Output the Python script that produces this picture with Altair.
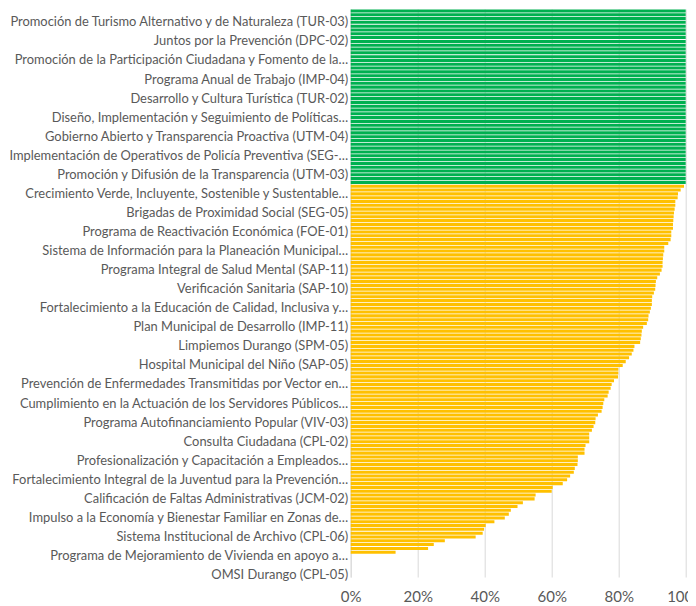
import json
import altair as alt
import pandas as pd

# Category labels shown on the axis (every 5th category, bottom to top)
tick_labels = [
    "OMSI Durango (CPL-05)",
    "Programa de Mejoramiento de Vivienda en apoyo a…",
    "Sistema Institucional de Archivo (CPL-06)",
    "Impulso a la Economía y Bienestar Familiar en Zonas de…",
    "Calificación de Faltas Administrativas (JCM-02)",
    "Fortalecimiento Integral de la Juventud para la Prevención…",
    "Profesionalización y Capacitación a Empleados…",
    "Consulta Ciudadana (CPL-02)",
    "Programa Autofinanciamiento Popular (VIV-03)",
    "Cumplimiento en la Actuación de los Servidores Públicos…",
    "Prevención de Enfermedades Transmitidas por Vector en…",
    "Hospital Municipal del Niño (SAP-05)",
    "Limpiemos Durango (SPM-05)",
    "Plan Municipal de Desarrollo (IMP-11)",
    "Fortalecimiento a la Educación de Calidad, Inclusiva y…",
    "Verificación Sanitaria (SAP-10)",
    "Programa Integral de Salud Mental (SAP-11)",
    "Sistema de Información para la Planeación Municipal…",
    "Programa de Reactivación Económica (FOE-01)",
    "Brigadas de Proximidad Social (SEG-05)",
    "Crecimiento Verde, Incluyente, Sostenible y Sustentable…",
    "Promoción y Difusión de la Transparencia (UTM-03)",
    "Implementación de Operativos de Policía Preventiva (SEG-…",
    "Gobierno Abierto y Transparencia Proactiva (UTM-04)",
    "Diseño, Implementación y Seguimiento de Políticas…",
    "Desarrollo y Cultura Turística (TUR-02)",
    "Programa Anual de Trabajo (IMP-04)",
    "Promoción de la Participación Ciudadana y Fomento de la…",
    "Juntos por la Prevención (DPC-02)",
    "Promoción de Turismo Alternativo y de Naturaleza (TUR-03)",
]
label_step = 5

# Completion (%) of programs, bottom to top
zero_programs = [0, 0, 0, 0, 0, 0]
partial_programs = [
    13.4, 23.1, 24.8, 28.1, 37.3, 39.4, 39.8, 40.3, 42.9, 46.0,
    47.2, 47.8, 49.8, 51.4, 54.9, 55.2, 60.0, 60.3, 63.3, 64.6,
    65.5, 66.6, 66.9, 67.7, 67.8, 67.8, 69.8, 69.8, 70.1, 71.2,
    71.2, 71.2, 72.0, 72.5, 73.0, 73.1, 73.8, 74.9, 75.2, 75.4,
    75.7, 76.7, 77.0, 77.6, 77.9, 78.6, 79.8, 79.9, 79.9, 81.2,
    82.1, 83.1, 83.9, 84.4, 84.7, 86.4, 86.6, 86.8, 86.9, 87.3,
    88.4, 88.8, 88.9, 89.3, 89.6, 89.9, 89.9, 90.0, 90.5, 90.9,
    91.0, 91.1, 91.5, 92.3, 92.8, 93.1, 93.1, 93.2, 93.3, 93.6,
    93.6, 94.8, 95.5, 95.7, 95.7, 96.2, 96.2, 96.3, 96.4, 96.5,
    96.7, 96.9, 96.9, 97.6, 97.7, 98.5, 99.5,
]
complete_programs = [100.0] * 46

completion = zero_programs + partial_programs + complete_programs

df = pd.DataFrame({
    "idx": list(range(len(completion))),
    "pct": [v / 100 for v in completion],
    "status": ["Cumplido" if v >= 100 else "Parcial" for v in completion],
})

# Untruncated labels sit a little further from the axis (as in the original)
shown_labels = [t if t.endswith("…") else t + "\u00a0\u00a0\u00a0" for t in tick_labels]
label_expr = (
    json.dumps(shown_labels, ensure_ascii=False)
    + "[floor(datum.value / %d)]" % label_step
)

chart = (
    alt.Chart(df)
    .mark_bar()
    .encode(
        x=alt.X(
            "pct:Q",
            scale=alt.Scale(domain=[0, 1], nice=False),
            axis=alt.Axis(
                format="%",
                values=[0, 0.2, 0.4, 0.6, 0.8, 1.0],
                title=None,
                grid=True,
                gridColor="#D9D9D9",
                gridWidth=1,
                domain=False,
                ticks=False,
                labelColor="#595959",
                labelFontSize=15,
                labelFont="Lato",
                labelFlush=False,
                labelPadding=12,
            ),
        ),
        y=alt.Y(
            "idx:O",
            sort="descending",
            scale=alt.Scale(paddingInner=0.2, paddingOuter=0.1),
            axis=alt.Axis(
                values=list(range(0, len(completion), label_step)),
                labelExpr=label_expr,
                title=None,
                ticks=False,
                domain=True,
                domainColor="#D9D9D9",
                domainWidth=1,
                labelColor="#595959",
                labelFontSize=12.9,
                labelFont="Lato",
                labelLimit=400,
                labelPadding=3,
            ),
        ),
        color=alt.Color(
            "status:N",
            scale=alt.Scale(domain=["Cumplido", "Parcial"], range=["#00B050", "#FFC000"]),
            legend=None,
        ),
    )
    .properties(
        width=335,
        height=568,
        autosize=alt.AutoSizeParams(type="none"),
        padding={"left": 342.7, "top": 1, "right": 2.3, "bottom": 30},
    )
    .configure_view(stroke=None)
)

chart.save("out.html", embed_options={"renderer": "svg", "actions": False})
